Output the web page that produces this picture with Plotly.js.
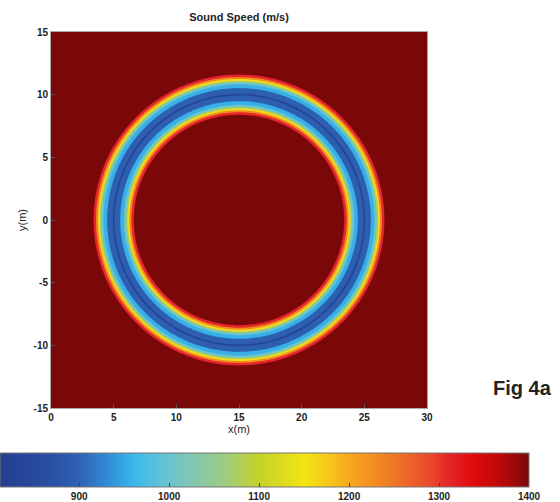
<!DOCTYPE html>
<html>
<head>
<meta charset="utf-8">
<script src="https://cdn.plot.ly/plotly-3.0.1.min.js"></script>
<style>html,body{margin:0;padding:0;background:#fff;}#chart{width:560px;height:502px;}</style>
</head>
<body>
<div id="chart"></div>
<script>
// ---- data ----
const ringCenterX = 15;          // m
const ringCenterY = 0;           // m
const coreRadius = 10;           // m, radius of the sound-speed minimum
// radial sound-speed profile, as a function of distance from the core circle
const offsetFromCore = [0, 0.1, 0.3, 0.5, 0.65, 0.82, 1.0, 1.1, 1.25, 1.4, 1.6, 1.8];
const soundSpeed     = [856, 862, 890, 925, 960, 1000, 1070, 1140, 1210, 1280, 1350, 1400];
// contour levels
const contourStart = 860, contourSize = 70, contourEnd = 1350;
// value used to colour each filled band (lowest band first)
const bandValues = [825, 893, 955, 1005, 1075, 1160, 1230, 1310, 1400];
// colour bar
const cbMin = 812, cbMax = 1400;
const cbTickVals = [900, 1000, 1100, 1200, 1300, 1400];
const cbTickText = ['900', '1000', '1100', '1200', '1300', '1400'];
const scaleValues = [812, 870, 900, 930, 960, 990, 1020, 1060, 1100, 1150, 1180, 1200, 1250, 1290, 1310, 1340, 1370, 1400];
const scaleColors = ['#243f8f','#2a50a4','#2e62b4','#3289d4','#38b8ec','#5fc2d8','#7ec6b8','#9ccb84','#c4d22a','#f2e514','#f7c41a','#f6a81e','#ef7627','#ea4a2a','#e5262a','#de0a0a','#b80a0a','#7a0808'];
const xTickVals = [0, 5, 10, 15, 20, 25, 30];
const xTickText = ['0', '5', '10', '15', '20', '25', '30'];
const yTickVals = [-15, -10, -5, 0, 5, 10, 15];
const yTickText = ['-15', '-10', '-5', '0', '5', '10', '15'];

// ---- helpers ----
function hexToRgb(h){return [parseInt(h.substr(1,2),16),parseInt(h.substr(3,2),16),parseInt(h.substr(5,2),16)];}
function colorAt(v){
  if(v<=scaleValues[0]) return scaleColors[0];
  for(let i=1;i<scaleValues.length;i++){
    if(v<=scaleValues[i]){
      const t=(v-scaleValues[i-1])/(scaleValues[i]-scaleValues[i-1]);
      const a=hexToRgb(scaleColors[i-1]), b=hexToRgb(scaleColors[i]);
      return 'rgb('+a.map((c,k)=>Math.round(c+(b[k]-c)*t)).join(',')+')';
    }
  }
  return scaleColors[scaleColors.length-1];
}
function profileAt(d){
  if(d>=offsetFromCore[offsetFromCore.length-1]) return soundSpeed[soundSpeed.length-1];
  for(let i=1;i<offsetFromCore.length;i++){
    if(d<=offsetFromCore[i]){
      const t=(d-offsetFromCore[i-1])/(offsetFromCore[i]-offsetFromCore[i-1]);
      return soundSpeed[i-1]+(soundSpeed[i]-soundSpeed[i-1])*t;
    }
  }
}

// grid table built from the radial profile
const step = 0.1;
const gx=[], gy=[];
for(let i=0;i<=300;i++) gx.push(+(i*step).toFixed(2));
for(let j=0;j<=300;j++) gy.push(+(-15+j*step).toFixed(2));
const z = gy.map(y=>gx.map(x=>{
  const r=Math.hypot(x-ringCenterX,y-ringCenterY);
  return profileAt(Math.abs(r-coreRadius));
}));

// stepped colorscale for the filled contour bands
const nc = Math.floor((contourEnd-contourStart)/contourSize)+1;
const bandScale=[];
bandValues.forEach((v,k)=>{
  const c=colorAt(v);
  bandScale.push([Math.max(0,(k-0.5)/nc),c]);
  bandScale.push([Math.min(1,(k+0.5)/nc),c]);
});
bandScale[0][0]=0; bandScale[bandScale.length-1][0]=1;

const barScale = scaleValues.map((v,i)=>[(v-cbMin)/(cbMax-cbMin), scaleColors[i]]);

const font = {family:'Arial, Liberation Sans, sans-serif', color:'#222'};

const traces = [
  {
    type:'contour', x:gx, y:gy, z:z,
    autocontour:false,
    contours:{start:contourStart,end:contourEnd,size:contourSize,coloring:'fill',showlines:false},
    line:{width:0},
    colorscale:bandScale, showscale:false, hoverinfo:'skip'
  },
  {
    type:'scatter', mode:'markers', x:[ringCenterX], y:[ringCenterY], hoverinfo:'skip', showlegend:false,
    marker:{size:1, opacity:0, color:[cbMax], cmin:cbMin, cmax:cbMax, colorscale:barScale, showscale:true,
      colorbar:{orientation:'h', xref:'container', x:0, xanchor:'left', yref:'container', y:(502-453)/502, yanchor:'top',
        len:529, lenmode:'pixels', thickness:34, thicknessmode:'pixels', xpad:0, ypad:0,
        outlinewidth:1, outlinecolor:'#777', tickvals:cbTickVals, ticktext:cbTickText, ticks:'inside', ticklen:4, tickcolor:'#444',
        ticklabeloverflow:'allow',
        tickfont:{...font,size:10,weight:'bold'}}}
  }
];

const layout = {
  width:560, height:502,
  margin:{l:51, r:133, t:32, b:94},
  paper_bgcolor:'#fff', plot_bgcolor:'#7a0808',
  showlegend:false,
  title:{text:'Sound Speed (m/s)', font:{...font,size:11,weight:'bold'}, x:0.5, xref:'paper', y:(502-17)/502, yref:'container', yanchor:'middle'},
  xaxis:{range:[0,30], tickvals:xTickVals, ticktext:xTickText, ticks:'inside', ticklen:4, tickcolor:'#555', showgrid:false, zeroline:false,
    showline:true, linecolor:'#aaa', linewidth:1, mirror:true,
    tickfont:{...font,size:10,weight:'bold'},
    title:{text:'x(m)', font:{...font,size:11}, standoff:2}},
  yaxis:{range:[-15,15], tickvals:yTickVals, ticktext:yTickText, ticks:'inside', ticklen:4, tickcolor:'#555', showgrid:false, zeroline:false,
    showline:true, linecolor:'#aaa', linewidth:1, mirror:true,
    tickfont:{...font,size:10,weight:'bold'},
    title:{text:'y(m)', font:{...font,size:11}, standoff:4}},
  annotations:[{text:'Fig 4a', xref:'paper', yref:'paper', x:(522-51)/376, y:(408-388)/376, xanchor:'center', yanchor:'middle',
    showarrow:false, font:{family:'Arial, Liberation Sans, sans-serif', size:20, weight:'bold', color:'#222'}}]
};

Plotly.newPlot('chart', traces, layout, {displayModeBar:false, staticPlot:true});
</script>
</body>
</html>
